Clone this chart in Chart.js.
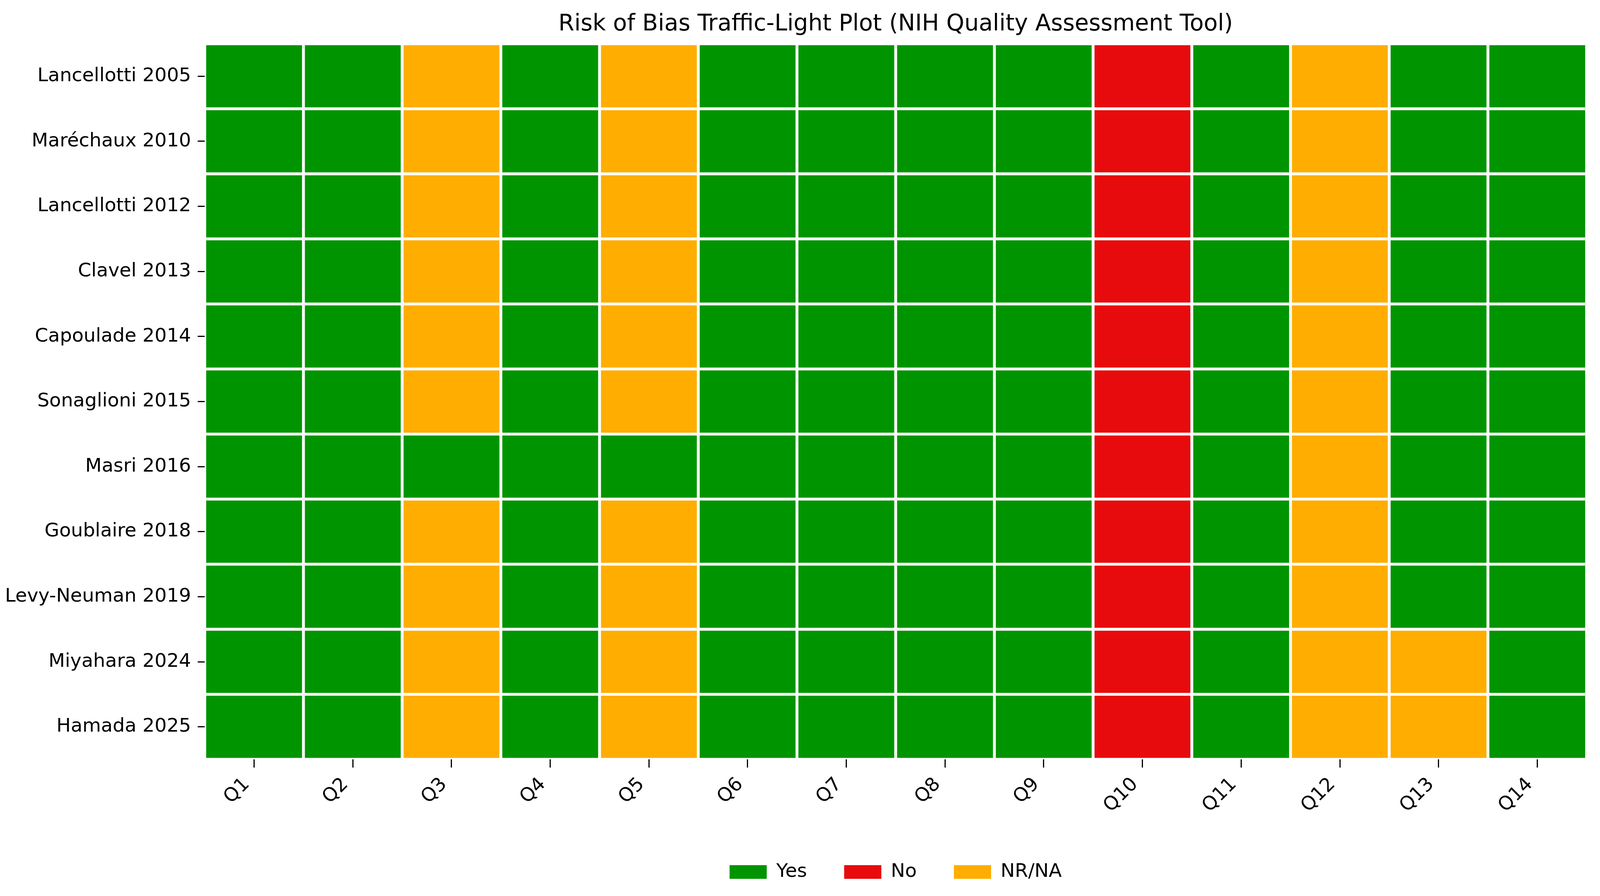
<!DOCTYPE html>
<html lang="en">
<head>
  <meta charset="UTF-8">
  <title>Risk of Bias Traffic-Light Plot</title>
  <script src="https://cdn.jsdelivr.net/npm/chart.js"></script>
  <style>
    html, body { margin: 0; padding: 0; background: #ffffff; overflow: hidden; }
    #chart-container { position: absolute; left: 0; top: 0; width: 100vw; height: 100vh; }
    canvas { display: block; }
  </style>
</head>
<body>
  <div id="chart-container">
    <canvas id="robChart"></canvas>
  </div>

  <script>
    const studies = ['Lancellotti 2005', 'Maréchaux 2010', 'Lancellotti 2012', 'Clavel 2013',
      'Capoulade 2014', 'Sonaglioni 2015', 'Masri 2016', 'Goublaire 2018',
      'Levy-Neuman 2019', 'Miyahara 2024', 'Hamada 2025'];
    const questions = ['Q1', 'Q2', 'Q3', 'Q4', 'Q5', 'Q6', 'Q7', 'Q8', 'Q9', 'Q10', 'Q11', 'Q12', 'Q13', 'Q14'];

    // Y = Yes, N = No, R = NR/NA  (one row per study, one entry per question)
    const ratings = [
      ['Y', 'Y', 'R', 'Y', 'R', 'Y', 'Y', 'Y', 'Y', 'N', 'Y', 'R', 'Y', 'Y'],
      ['Y', 'Y', 'R', 'Y', 'R', 'Y', 'Y', 'Y', 'Y', 'N', 'Y', 'R', 'Y', 'Y'],
      ['Y', 'Y', 'R', 'Y', 'R', 'Y', 'Y', 'Y', 'Y', 'N', 'Y', 'R', 'Y', 'Y'],
      ['Y', 'Y', 'R', 'Y', 'R', 'Y', 'Y', 'Y', 'Y', 'N', 'Y', 'R', 'Y', 'Y'],
      ['Y', 'Y', 'R', 'Y', 'R', 'Y', 'Y', 'Y', 'Y', 'N', 'Y', 'R', 'Y', 'Y'],
      ['Y', 'Y', 'R', 'Y', 'R', 'Y', 'Y', 'Y', 'Y', 'N', 'Y', 'R', 'Y', 'Y'],
      ['Y', 'Y', 'Y', 'Y', 'Y', 'Y', 'Y', 'Y', 'Y', 'N', 'Y', 'R', 'Y', 'Y'],
      ['Y', 'Y', 'R', 'Y', 'R', 'Y', 'Y', 'Y', 'Y', 'N', 'Y', 'R', 'Y', 'Y'],
      ['Y', 'Y', 'R', 'Y', 'R', 'Y', 'Y', 'Y', 'Y', 'N', 'Y', 'R', 'Y', 'Y'],
      ['Y', 'Y', 'R', 'Y', 'R', 'Y', 'Y', 'Y', 'Y', 'N', 'Y', 'R', 'R', 'Y'],
      ['Y', 'Y', 'R', 'Y', 'R', 'Y', 'Y', 'Y', 'Y', 'N', 'Y', 'R', 'R', 'Y']
    ];

    const legendCodes = ['Y', 'N', 'R'];
    const legendLabels = ['Yes', 'No', 'NR/NA'];
    const colours = { Y: '#009500', N: '#e80b0d', R: '#ffad00' };

    // layout was measured on the 4306 x 2295 original; scale to the real viewport
    const sx = window.innerWidth / 4306;
    const sy = window.innerHeight / 2295;
    const fs = (sx + sy) / 2;
    const H = window.innerHeight;

    const tickFont = 50 * fs;
    const legendPad = 100 * sx;
    const legendBottomPad = (52 - 25) * sy;
    const legendHeight = tickFont + legendPad + 10;
    const xAxisHeight = H - legendBottomPad - legendHeight - 1945 * sy;

    Chart.defaults.font.family = "'DejaVu Sans', sans-serif";
    Chart.defaults.color = '#000000';

    // one stacked dataset per question, every cell is one unit wide
    const datasets = questions.map((q, j) => ({
      label: q,
      data: studies.map(() => 1),
      backgroundColor: ratings.map(row => colours[row[j]]),
      borderColor: '#ffffff',
      borderWidth: 4,
      borderSkipped: false,
      categoryPercentage: 1.0,
      barPercentage: 1.0
    }));

    // keep title and legend centred on the plot area, like the original
    const centreOnPlot = {
      id: 'centreOnPlot',
      afterLayout(chart) {
        const area = chart.chartArea;
        [chart.titleBlock, chart.legend].forEach(box => {
          if (!box) return;
          box.left = area.left;
          box.right = area.right;
          box.width = area.right - area.left;
        });
      }
    };

    const ctx = document.getElementById('robChart').getContext('2d');
    new Chart(ctx, {
      type: 'bar',
      data: { labels: studies, datasets: datasets },
      options: {
        indexAxis: 'y',
        responsive: true,
        maintainAspectRatio: false,
        animation: false,
        events: [],
        layout: { padding: { left: 0, right: 36 * sx, top: 0, bottom: legendBottomPad } },
        scales: {
          x: {
            type: 'linear',
            stacked: true,
            min: 0,
            max: questions.length,
            afterBuildTicks: (scale) => {
              scale.ticks = questions.map((q, i) => ({ value: i + 0.5 }));
            },
            afterFit: (scale) => { scale.height = xAxisHeight; },
            ticks: {
              autoSkip: false,
              minRotation: 45,
              maxRotation: 45,
              padding: 15 * sy,
              labelOffset: -20 * sx,
              font: { size: tickFont },
              callback: (value, index) => questions[index]
            },
            grid: { drawOnChartArea: false, tickLength: 21 * sy, tickWidth: 3, tickColor: '#000000' },
            border: { display: false }
          },
          y: {
            stacked: true,
            afterFit: (scale) => { scale.width = 551 * sx; },
            ticks: { padding: 18 * sx, font: { size: tickFont } },
            grid: { offset: false, drawOnChartArea: false, tickLength: 19 * sx, tickWidth: 3, tickColor: '#000000' },
            border: { display: false }
          }
        },
        plugins: {
          title: {
            display: true,
            text: 'Risk of Bias Traffic-Light Plot (NIH Quality Assessment Tool)',
            font: { size: 60 * fs, weight: 'normal' },
            padding: { top: 28 * sy, bottom: 112 * sy - 28 * sy - 72 * fs }
          },
          legend: {
            position: 'bottom',
            labels: {
              boxWidth: 100 * sx,
              boxHeight: 35 * sy,
              padding: legendPad,
              font: { size: tickFont },
              generateLabels: () => legendLabels.map((text, k) => ({
                text: text,
                fillStyle: colours[legendCodes[k]],
                strokeStyle: colours[legendCodes[k]],
                lineWidth: 0,
                hidden: false
              }))
            }
          },
          tooltip: { enabled: false }
        }
      },
      plugins: [centreOnPlot]
    });
  </script>
</body>
</html>
